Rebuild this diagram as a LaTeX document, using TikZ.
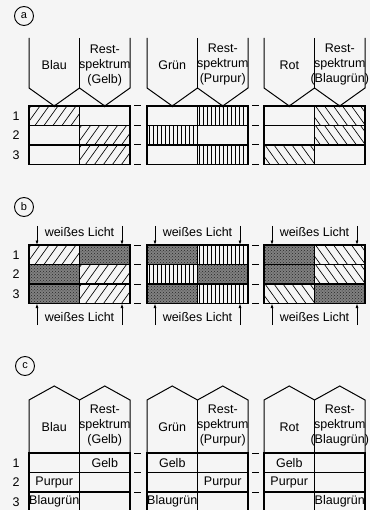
\documentclass[tikz,border=0pt]{standalone}
\usepackage{fontspec}
\setmainfont{Liberation Sans}
\usetikzlibrary{arrows.meta,patterns}
\begin{document}
\begin{tikzpicture}
    [x=1pt,y=-1pt,
    font=\fontsize{12.5}{15}\selectfont,
    frame/.style={line width=1.3pt},
    funnel/.style={line width=1pt},
    hatchline/.style={line width=0.65pt},
    hatch/.style 2 args={path picture={
        \foreach \k in {0,...,25}
        \draw[hatchline] ([xshift=-30pt+\k*#1]path picture bounding box.south west)
        --([xshift=-30pt+\k*#1+#2]path picture bounding box.north west);}},
    dark/.style={fill=black!50,postaction={pattern=crosshatch dots,pattern color=black!85}},
    tag/.style={draw,circle,line width=0.9pt,minimum size=19pt,inner sep=0pt,font=\fontsize{11}{11}\selectfont},
    licht/.style={-{Latex[length=4.5pt,width=3pt]},line width=0.8pt}]
    \useasboundingbox (0,0) rectangle (370,510);
    \fill[black!4] (0,0) rectangle (370,510);
    \clip (0,0) rectangle (370,510);
    %panel a
    \node[tag] (taga) at (24,16) {a};
    \foreach \r in {1,2,3}
        \node (an\r) at (16,96.25+\r*19.5) {\r};
    \foreach \b/\L/\cl/\rc/\hd/\hk/\ca/\cb/\cc in
        {1/29/Blau/Gelb/9pt/14pt/1/2/2,
         2/147/Grün/Purpur/4pt/0pt/2/1/2,
         3/264/Rot/Blaugrün/9pt/-14pt/2/2/1}{
        %funnels
        \draw[funnel] (\L,38)--(\L,88)--(\L+25.25,106)--(\L+50.5,88)
            --(\L+75.75,106)--(\L+101,88)--(\L+101,38);
        \draw[funnel] (\L+50.5,38)--(\L+50.5,88);
        \fill (\L+25.25,106) circle (1.4pt) (\L+75.75,106) circle (1.4pt);
        \node (a\b-l) at (\L+25.25,65) {\cl};
        \node[align=center] (a\b-r) at (\L+75.75,65) {Rest-\\spektrum\\(\rc)};
        %filters
        \foreach \r/\c in {1/\ca,2/\cb,3/\cc}
            \path[hatch={\hd}{\hk}] (\L+\c*50.5-50.5,86.5+\r*19.5) rectangle ++(50.5,19.5);
        %cells
        \draw[frame] (\L,106) rectangle (\L+101,164.5)
            (\L,125.5)--(\L+101,125.5) (\L,145)--(\L+101,145)
            (\L+50.5,106)--(\L+50.5,164.5);
    }
    \foreach \x in {134,252}
        \foreach \y in {106,125.5,145,164.5}
            \draw[funnel] (\x,\y)--(\x+7,\y);
    %panel b
    \node[tag] (tagb) at (24,207) {b};
    \foreach \r in {1,2,3}
        \node (bn\r) at (16,235.25+\r*19.5) {\r};
    \foreach \b/\L/\hd/\hk/\ca/\cb/\cc in
        {1/29/9pt/14pt/1/2/2,
         2/147/4pt/0pt/2/1/2,
         3/264/9pt/-14pt/2/2/1}{
        %white light
        \draw[licht] (\L+8,226)--(\L+8,245);
        \draw[licht] (\L+93,226)--(\L+93,245);
        \node (b\b-top) at (\L+50.5,232) {weißes Licht};
        \draw[licht] (\L+8,325)--(\L+8,303.5);
        \draw[licht] (\L+93,325)--(\L+93,303.5);
        \node (b\b-bot) at (\L+50.5,317) {weißes Licht};
        %filters
        \foreach \r/\c in {1/\ca,2/\cb,3/\cc}{
            \path[hatch={\hd}{\hk}] (\L+\c*50.5-50.5,225.5+\r*19.5) rectangle ++(50.5,19.5);
            \path[dark] (\L+101-\c*50.5,225.5+\r*19.5) rectangle ++(50.5,19.5);
        }
        %cells
        \draw[frame] (\L,245) rectangle (\L+101,303.5)
            (\L,264.5)--(\L+101,264.5) (\L,284)--(\L+101,284)
            (\L+50.5,245)--(\L+50.5,303.5);
    }
    \foreach \x in {134,252}
        \foreach \y in {245,264.5,284,303.5}
            \draw[funnel] (\x,\y)--(\x+7,\y);
    %panel c
    \node[tag] (tagc) at (25,366) {c};
    \foreach \r in {1,2,3}
        \node (cn\r) at (16,443.25+\r*19.5) {\r};
    \foreach \b/\L/\cl/\rc/\ca/\cb/\cc in
        {1/29/Blau/Gelb/1/2/2,
         2/147/Grün/Purpur/2/1/2,
         3/264/Rot/Blaugrün/2/2/1}{
        %houses
        \draw[funnel] (\L,453)--(\L,400)--(\L+25.25,386)--(\L+50.5,400)
            --(\L+75.75,386)--(\L+101,400)--(\L+101,453);
        \draw[funnel] (\L+50.5,400)--(\L+50.5,453);
        \node (c\b-l) at (\L+25.25,427) {\cl};
        \node[align=center] (c\b-r) at (\L+75.75,425) {Rest-\\spektrum\\(\rc)};
        %colours seen
        \foreach \r/\c/\seen in {1/\ca/Gelb,2/\cb/Purpur,3/\cc/Blaugrün}
            \node (c\b-\r) at (\L+126.25-\c*50.5,443.25+\r*19.5) {\seen};
        %cells
        \draw[frame] (\L,453) rectangle (\L+101,511.5)
            (\L,472.5)--(\L+101,472.5) (\L,492)--(\L+101,492)
            (\L+50.5,453)--(\L+50.5,511.5);
    }
    \foreach \x in {134,252}
        \foreach \y in {453,472.5,492,511.5}
            \draw[funnel] (\x,\y)--(\x+7,\y);
\end{tikzpicture}
\end{document}
